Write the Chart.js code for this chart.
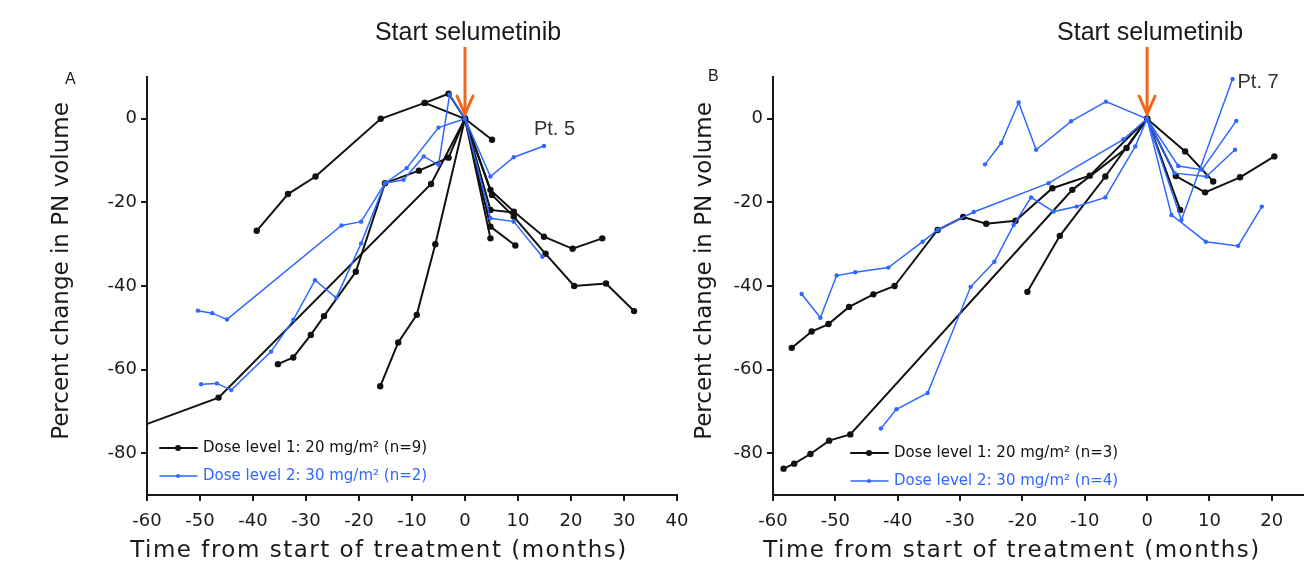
<!DOCTYPE html>
<html>
<head>
<meta charset="utf-8">
<script src="https://cdn.jsdelivr.net/npm/chart.js@4.4.1/dist/chart.umd.min.js"></script>
<style>
  body { margin: 0; background: #fff; width: 1314px; height: 572px; overflow: hidden; position: relative; }
  canvas { position: absolute; top: 0; }
  #chartA { left: 0; }
  #chartB { left: 650px; }
</style>
</head>
<body>
<canvas id="chartA" width="700" height="572"></canvas>
<canvas id="chartB" width="664" height="572"></canvas>
<script>
// ---- data: [months from start, % change in PN volume] ----
// panel A
const aBlack1 = [[-39.3,-26.8],[-33.4,-18.0],[-28.2,-13.8],[-15.9,0],[-7.6,3.8],[-3.1,6.0],[0,0],[5.1,-18.2],[9.2,-23.4],[15.2,-32.3],[20.6,-40],[26.6,-39.4],[31.9,-46]];
const aBlack2 = [[-64,-74.9],[-46.5,-66.7],[-6.4,-15.6],[0,0],[4.8,-17],[9.2,-22.2],[14.9,-28.2],[20.3,-31.1],[25.9,-28.6]];
const aBlack3 = [[-16,-64],[-12.6,-53.5],[-9.1,-46.9],[-5.6,-30],[0,0],[4.8,-28.6]];
const aBlack4 = [[-35.3,-58.7],[-32.4,-57.1],[-29.1,-51.7],[-26.6,-47.2],[-20.6,-36.6],[-15.1,-15.4],[-8.7,-12.4],[-3.1,-9.3],[0,0],[4.8,-25.8],[9.5,-30.3]];
const aBlack5 = [[-7.6,3.8],[0,0],[5.1,-5.0]];
const aBlack6 = [[0,0],[4.8,-21.8],[9.2,-22.4]];
const aBlue1 = [[-50.4,-45.9],[-47.7,-46.5],[-44.9,-48],[-23.3,-25.5],[-19.6,-24.6],[-15.1,-15.4],[-11,-11.8],[-5,-2.1],[0,0],[4.8,-13.8],[9.2,-9.2],[14.9,-6.5]];
const aBlue2 = [[-49.8,-63.5],[-46.8,-63.3],[-44.1,-64.9],[-36.6,-55.7],[-32.4,-48.1],[-28.3,-38.6],[-24.3,-42.8],[-19.6,-29.8],[-15.1,-15.4],[-11.6,-14.6],[-7.8,-9],[-5,-11],[-2.9,5.8],[0,0],[4.8,-23.8],[9.2,-24.6],[14.6,-33]];
// panel B
const bBlack1 = [[-57,-54.8],[-53.8,-50.9],[-51.1,-49.1],[-47.8,-45],[-43.9,-42],[-40.5,-40],[-33.6,-26.6],[-29.5,-23.5],[-25.8,-25.1],[-21.1,-24.4],[-15.2,-16.6],[-9.2,-13.6],[0,0],[6.1,-7.8],[10.6,-15]];
const bBlack2 = [[-58.3,-83.7],[-56.6,-82.5],[-54,-80.2],[-51,-77],[-47.6,-75.5],[-12,-17],[-3.3,-7],[0,0],[4.6,-13.7],[9.3,-17.6],[14.9,-14],[20.4,-9]];
const bBlack3 = [[-19.2,-41.4],[-14,-28],[-6.7,-13.8],[0,0],[5.3,-21.8]];
const bBlue1 = [[-26,-10.9],[-23.4,-5.8],[-20.6,3.9],[-17.8,-7.4],[-12.2,-0.6],[-6.6,4.1],[0,0],[5,-11.3],[8.8,-12.2],[14.3,-0.5]];
const bBlue2 = [[-55.4,-41.9],[-52.4,-47.6],[-49.8,-37.5],[-46.8,-36.7],[-41.5,-35.6],[-36,-29.4],[-33.6,-26.6],[-27.8,-22.3],[-15.8,-15.4],[-3.8,-4.9],[0,0],[4.4,-13],[9.5,-13.8],[14.1,-7.4]];
const bBlue3 = [[-42.7,-74.1],[-40.2,-69.5],[-35.2,-65.6],[-28.3,-40.2],[-24.5,-34.2],[-21.4,-25.4],[-18.6,-18.8],[-15,-22.2],[-11.3,-21],[-6.7,-18.8],[-1.9,-6.6],[0,0],[3.9,-23],[9.4,-29.4],[14.6,-30.4],[18.4,-21]];
const bBlue4 = [[0,0],[5.5,-24.2],[13.7,9.5]];

const xTicksA = [-60, -50, -40, -30, -20, -10, 0, 10, 20, 30, 40];
const xTicksB = [-60, -50, -40, -30, -20, -10, 0, 10, 20];
const yTicks = [0, -20, -40, -60, -80];

const xTitle = 'Time from start of treatment (months)';
const yTitle = 'Percent change in PN volume';
const legendA = ['Dose level 1: 20 mg/m\u00B2 (n=9)', 'Dose level 2: 30 mg/m\u00B2 (n=2)'];
const legendB = ['Dose level 1: 20 mg/m\u00B2 (n=3)', 'Dose level 2: 30 mg/m\u00B2 (n=4)'];

const BLACK = '#111';
const BLUE = '#2f68ff';
const ORANGE = '#f0661e';
const INK = '#1a1a1a';

function toXY(arr) { return arr.map(p => ({x: p[0], y: p[1]})); }

function blackSet(arr) {
  return { data: toXY(arr), showLine: true, borderColor: BLACK, backgroundColor: BLACK,
           borderWidth: 2, pointRadius: 3.2, pointBorderWidth: 0 };
}
function blueSet(arr) {
  return { data: toXY(arr), showLine: true, borderColor: BLUE, backgroundColor: BLUE,
           borderWidth: 1.5, pointRadius: 2.2, pointBorderWidth: 0 };
}

// titles, arrow, labels, legend drawn over the plot
const annotate = {
  id: 'annotate',
  afterDraw(chart, args, o) {
    const ctx = chart.ctx;
    const xs = chart.scales.x, ys = chart.scales.y;
    const x0 = xs.getPixelForValue(0);
    ctx.save();

    // axis titles
    ctx.fillStyle = INK;
    ctx.textAlign = 'center';
    ctx.textBaseline = 'middle';
    ctx.font = '23px "DejaVu Sans", Verdana, sans-serif';
    ctx.letterSpacing = '1.5px';
    ctx.fillText(xTitle, o.xTitleX, 551);
    ctx.letterSpacing = '0px';
    ctx.save();
    ctx.translate(o.yTitleX, 271);
    ctx.rotate(-Math.PI / 2);
    ctx.fillText(yTitle, 0, 0);
    ctx.restore();

    ctx.font = '25px "Liberation Sans", Arial, sans-serif';
    ctx.textBaseline = 'alphabetic';
    ctx.fillText('Start selumetinib', x0 + 3, 40);

    // arrow
    ctx.strokeStyle = ORANGE;
    ctx.lineWidth = 3;
    ctx.beginPath();
    ctx.moveTo(x0, 47);
    ctx.lineTo(x0, 110);
    ctx.stroke();
    ctx.lineCap = 'round';
    ctx.beginPath();
    ctx.moveTo(x0 - 8, 96);
    ctx.lineTo(x0, 114);
    ctx.lineTo(x0 + 8, 96);
    ctx.stroke();

    // panel letter
    ctx.fillStyle = INK;
    ctx.font = '16px "Liberation Sans", Arial, sans-serif';
    ctx.textAlign = 'left';
    ctx.fillText(o.letter, o.letterX, o.letterY);

    // patient label
    ctx.font = '20px "Liberation Sans", Arial, sans-serif';
    ctx.fillStyle = '#333';
    ctx.fillText(o.pt, xs.getPixelForValue(o.ptX), ys.getPixelForValue(o.ptY));

    // legend
    const L = chart.chartArea.left;
    const cols = [BLACK, BLUE];
    ctx.font = '15px "DejaVu Sans", Verdana, sans-serif';
    ctx.textBaseline = 'middle';
    o.legend.forEach((t, i) => {
      const y = o.legY + i * 28;
      const lx = L + o.legX;
      ctx.strokeStyle = cols[i];
      ctx.fillStyle = cols[i];
      ctx.lineWidth = i === 0 ? 2 : 1.5;
      ctx.beginPath();
      ctx.moveTo(lx, y);
      ctx.lineTo(lx + 37, y);
      ctx.stroke();
      ctx.beginPath();
      ctx.arc(lx + 18, y, i === 0 ? 3 : 2, 0, Math.PI * 2);
      ctx.fill();
      ctx.fillText(t, lx + 43, y);
    });
    ctx.restore();
  }
};

function makeScales(xMin, xMax, xTicks, yWidth) {
  const axisFont = { family: 'DejaVu Sans', size: 18 };
  return {
    x: {
      type: 'linear', min: xMin, max: xMax,
      afterBuildTicks: s => { s.ticks = xTicks.map(v => ({ value: v })); },
      afterFit: s => { s.height = 77; },
      border: { display: true, color: INK, width: 2 },
      grid: { drawOnChartArea: false, drawTicks: true, tickLength: 6, color: INK, lineWidth: 2 },
      ticks: { color: INK, font: axisFont, padding: 10, maxRotation: 0 }
    },
    y: {
      type: 'linear', min: -90, max: 10,
      afterBuildTicks: s => { s.ticks = yTicks.map(v => ({ value: v })); },
      afterFit: s => { s.width = yWidth; },
      border: { display: true, color: INK, width: 2 },
      grid: { drawOnChartArea: false, drawTicks: true, tickLength: 6, color: INK, lineWidth: 2 },
      ticks: { color: INK, font: axisFont, padding: 4 }
    }
  };
}

function makeChart(id, blues, blacks, scales, padRight, ann) {
  return new Chart(document.getElementById(id), {
    type: 'scatter',
    data: { datasets: blues.map(blueSet).concat(blacks.map(blackSet)) },
    options: {
      responsive: false,
      animation: false,
      layout: { padding: { top: 77, right: padRight, left: 0, bottom: 0 } },
      scales: scales,
      plugins: { legend: { display: false }, tooltip: { enabled: false }, annotate: ann }
    },
    plugins: [annotate]
  });
}

const chartA = makeChart('chartA',
  [aBlue1, aBlue2],
  [aBlack1, aBlack2, aBlack3, aBlack4, aBlack5, aBlack6],
  makeScales(-60, 40, xTicksA, 147), 23,
  { letter: 'A', letterX: 65, letterY: 84, pt: 'Pt. 5', ptX: 13.0, ptY: -3.8, legend: legendA, legX: 13, legY: 448,
    xTitleX: 379, yTitleX: 62 });

const chartB = makeChart('chartB',
  [bBlue1, bBlue2, bBlue3, bBlue4],
  [bBlack1, bBlack2, bBlack3],
  makeScales(-60, 25, xTicksB, 123), 11,
  { letter: 'B', letterX: 58, letterY: 81, pt: 'Pt. 7', ptX: 14.5, ptY: 7.4, legend: legendB, legX: 78, legY: 453,
    xTitleX: 362, yTitleX: 55 });
</script>
</body>
</html>
